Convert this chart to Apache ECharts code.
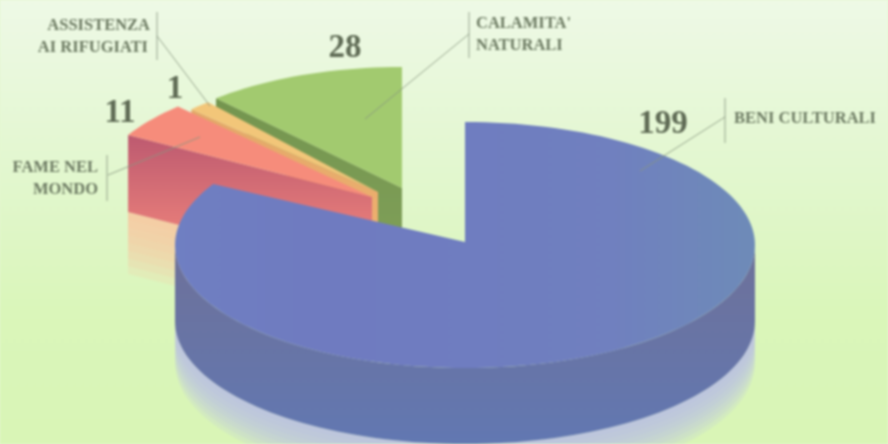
<!DOCTYPE html>
<html>
<head>
<meta charset="utf-8">
<style>
html,body{margin:0;padding:0;background:#e4f6cf;overflow:hidden}
#chart{width:888px;height:444px;filter:blur(0.8px)}
</style>
<script src="https://cdn.jsdelivr.net/npm/echarts@6/dist/echarts.min.js"></script>
</head>
<body>
<div id="chart"></div>
<script>
// Data, in counter-clockwise order starting at 12 o'clock (back slices first)
const categories = [["CALAMITA'", 'NATURALI'], ['ASSISTENZA', 'AI RIFUGIATI'], ['FAME NEL', 'MONDO'], ['BENI CULTURALI']];
const values = [28, 1, 11, 199];

const total = values.reduce((a, b) => a + b, 0);
const MIN_ANGLE = 5;

function hgrad(stops) {
  return new echarts.graphic.LinearGradient(0, 0, 1, 0, stops.map((c, i) => ({offset: i / (stops.length - 1), color: c})));
}
function vgrad(a, b) {
  return new echarts.graphic.LinearGradient(0, 0, 0, 1, [{offset: 0, color: a}, {offset: 1, color: b}]);
}

// Exploded layout for each slice
const layout = [
  {cx: 402, cy: 188, ax: 402, ay: 188, rx: 277, ry: 121, dRim: 13, dApex: 60, top: '#a2ca6f', wall: ['#74954f', '#7f9f58']},
  {cx: 378, cy: 192, ax: 378, ay: 192, rx: 262, ry: 118, dRim: 5, dApex: 42, top: '#f2c679', wall: ['#e2a868', '#eeb070']},
  {cx: 372, cy: 197, ax: 372, ay: 197, rx: 281, ry: 125, dRim: 77, dApex: 77, top: '#f68c7b', wall: ['#bd5a70', '#fa8d7e'], glow: '#f8c6a0', glowH: 62},
  {cx: 465, cy: 245, ax: 465, ay: 242, rx: 290, ry: 123, dRim: 76, dApex: 76,
   top: hgrad(['#6f7fc2', '#6f7bc0', '#6f7dc0', '#7080bf', '#6e8bb8']), wall: ['#6e7199', '#6278b2'], glow: '#b9bfe6', glowH: 42}
];

function pt(l, deg) {
  const t = deg * Math.PI / 180;
  return [l.cx + l.rx * Math.sin(t), l.cy - l.ry * Math.cos(t)];
}
function arc(l, a, b) {
  const n = Math.max(2, Math.ceil(Math.abs(b - a) / 2)), out = [];
  for (let i = 0; i <= n; i++) out.push(pt(l, a + (b - a) * i / n));
  return out;
}

function renderSlice(params, api) {
  const idx = params.dataIndex, l = layout[idx];
  let before = 0;
  for (let i = 0; i < idx; i++) before += values[i];
  const val = api.value(0);
  let a0 = -before / total * 360, a1 = -(before + val) / total * 360;
  if (a0 - a1 < MIN_ANGLE) { const m = (a0 + a1) / 2; a0 = m + MIN_ANGLE / 2; a1 = m - MIN_ANGLE / 2; }
  const children = [];
  const poly = (points, style) => children.push({type: 'polygon', shape: {points}, style, silent: true});

  if (idx === 3) {
    // cylinder side: front half of the rim
    const front = arc(l, 90, 270);
    for (let k = 8; k >= 1; k--) {
      const extra = l.glowH * k / 8;
      const lower = front.map(p => [p[0], p[1] + l.dRim + extra]).reverse();
      poly(front.map(p => [p[0], p[1] + l.dRim]).concat(lower), {fill: l.glow, opacity: 0.2});
    }
    const lower = front.map(p => [p[0], p[1] + l.dRim]).reverse();
    poly(front.concat(lower), {fill: vgrad(l.wall[0], l.wall[1])});
  } else {
    // cut face below the slice's lower edge
    const rim = pt(l, a1), apex = [l.ax, l.ay];
    const face = [apex, rim, [rim[0], rim[1] + l.dRim], [apex[0], apex[1] + l.dApex]];
    if (l.glow) {
      for (let k = 8; k >= 1; k--) {
        const e = l.glowH * k / 8;
        poly([[rim[0], rim[1] + l.dRim], [apex[0], apex[1] + l.dApex], [apex[0], apex[1] + l.dApex + e], [rim[0], rim[1] + l.dRim + e]], {fill: l.glow, opacity: 0.2});
      }
    }
    poly(face, {fill: vgrad(l.wall[0], l.wall[1])});
  }
  poly([[l.ax, l.ay]].concat(arc(l, a0, a1)), {fill: l.top});
  return {type: 'group', children};
}

// Annotation furniture
const ink = '#6c7a62', rule = '#87957f';
const lineEl = (x1, y1, x2, y2) => ({type: 'line', silent: true, z: 20, shape: {x1, y1, x2, y2}, style: {stroke: rule, lineWidth: 1, opacity: 0.85}});
const nameEl = (s, x, y, align) => ({type: 'text', silent: true, z: 20, x, y, style: {text: s, fill: ink, align, verticalAlign: 'middle', font: 'bold 16.5px "Liberation Serif"'}});
const valEl = (s, x, y) => ({type: 'text', silent: true, z: 20, x, y, style: {text: String(s), fill: '#5f6b55', align: 'center', verticalAlign: 'middle', font: 'bold 33px "Liberation Serif"'}});

const graphics = [
  lineEl(725, 98, 725, 143), lineEl(725, 117, 640, 171),
  lineEl(469, 12, 469, 58), lineEl(469, 34, 365, 119),
  lineEl(157, 12, 157, 60), lineEl(157, 36, 210, 106),
  lineEl(107, 155, 107, 201), lineEl(108, 175, 200, 137),
  nameEl(categories[3][0], 734, 119, 'left'),
  nameEl(categories[0][0], 476, 24, 'left'), nameEl(categories[0][1], 476, 46, 'left'),
  nameEl(categories[1][0], 150, 26, 'right'), nameEl(categories[1][1], 148, 48, 'right'),
  nameEl(categories[2][0], 98, 168, 'right'), nameEl(categories[2][1], 98, 190, 'right'),
  valEl(values[3], 663, 124), valEl(values[0], 345, 48), valEl(values[2], 120, 113), valEl(values[1], 175, 89)
];

const chart = echarts.init(document.getElementById('chart'), null, {renderer: 'canvas'});
chart.setOption({
  animation: false,
  backgroundColor: new echarts.graphic.LinearGradient(0, 0, 0, 1, [
    {offset: 0, color: '#eef9e6'},
    {offset: 0.4, color: '#e2f7ce'},
    {offset: 0.7, color: '#daf6ba'},
    {offset: 1, color: '#d9f5b6'}
  ]),
  series: [{type: 'custom', coordinateSystem: 'none', renderItem: renderSlice, data: values.map(v => [v]), silent: true}],
  graphic: graphics
});
</script>
</body>
</html>
